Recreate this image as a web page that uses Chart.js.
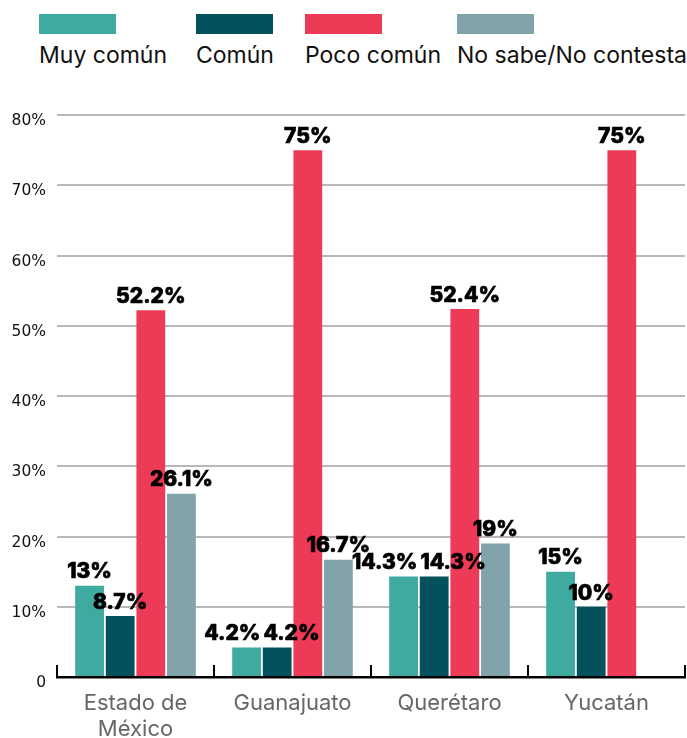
<!DOCTYPE html>
<html>
<head>
<meta charset="utf-8">
<script src="https://cdn.jsdelivr.net/npm/chart.js@4"></script>
<style>
  body { margin: 0; background: #fff; font-family: Inter, 'Open Sans', sans-serif; }
  #wrap { position: relative; width: 687px; height: 738px; }
  .lg { position: absolute; top: 14px; }
  .lg .box { width: 77px; height: 20px; }
  .lg .txt { margin-top: 7px; font-size: 23px; line-height: 28px; color: #111; white-space: nowrap; }
  #chartBox { position: absolute; left: 0; top: 80px; width: 687px; height: 658px; }
</style>
</head>
<body>
<div id="wrap">
  <div id="legend"></div>
  <div id="chartBox"><canvas id="c"></canvas></div>
</div>
<script>
// ── Data ─────────────────────────────────────────────────────────────────
const categories  = [['Estado de', 'México'], 'Guanajuato', 'Querétaro', 'Yucatán'];
const seriesNames = ['Muy común', 'Común', 'Poco común', 'No sabe/No contesta'];
const muyComun    = [13, 4.2, 14.3, 15];
const comun       = [8.7, 4.2, 14.3, 10];
const pocoComun   = [52.2, 75, 52.4, 75];
const noSabe      = [26.1, 16.7, 19, 0];
const colors      = ['#3eaaa0', '#03515c', '#ec3a57', '#80a4a9'];
const yTicks      = [0, 10, 20, 30, 40, 50, 60, 70, 80];

// ── Legend (box above text) ──────────────────────────────────────────────
const legendX = [39, 196, 305, 457];
document.getElementById('legend').innerHTML = seriesNames.map((n, i) => `
  <div class="lg" style="left:${legendX[i]}px">
    <div class="box" style="background:${colors[i]}"></div>
    <div class="txt">${n}</div>
  </div>`).join('');

// ── Plugins ──────────────────────────────────────────────────────────────
// value labels above bars, pushed apart when two neighbours collide
const valueLabels = {
    id: 'valueLabels',
    afterDatasetsDraw(chart) {
        const ctx = chart.ctx;
        ctx.save();
        ctx.font = '800 21px Inter, sans-serif';
        ctx.fillStyle = '#000';
        ctx.strokeStyle = '#000';
        ctx.lineWidth = 0.7;
        ctx.textAlign = 'center';
        ctx.textBaseline = 'bottom';
        categories.forEach((_, i) => {
            const items = [];
            chart.data.datasets.forEach((ds, di) => {
                const v = ds.data[i];
                if (!v) return;
                const bar = chart.getDatasetMeta(di).data[i];
                const txt = v + '%';
                items.push({ txt, x: bar.x, y: bar.y - 3, w: ctx.measureText(txt).width });
            });
            for (let k = 1; k < items.length; k++) {
                const a = items[k - 1], b = items[k];
                const vOverlap = Math.abs(a.y - b.y) < 20;
                const need = (a.w + b.w) / 2 + 3 - (b.x - a.x);
                if (vOverlap && need > 0) { a.x -= need / 2; b.x += need / 2; }
            }
            items.forEach(it => {
                ctx.fillText(it.txt, it.x, it.y);
                ctx.strokeText(it.txt, it.x, it.y);
            });
        });
        ctx.restore();
    }
};

const catTicks = {
    id: 'catTicks',
    afterDraw(chart) {
        const x = chart.scales.x, y = chart.scales.y;
        const ctx = chart.ctx;
        const half = (x.getPixelForValue(1) - x.getPixelForValue(0)) / 2;
        const base = y.getPixelForValue(0);
        ctx.save();
        ctx.strokeStyle = '#000';
        ctx.lineWidth = 2;
        for (let i = 0; i <= categories.length; i++) {
            const px = Math.round(x.getPixelForValue(i) - half);
            ctx.beginPath();
            ctx.moveTo(px, base + 1);
            ctx.lineTo(px, base - 12);
            ctx.stroke();
        }
        ctx.restore();
    }
};

// ── Chart ────────────────────────────────────────────────────────────────
const series = [muyComun, comun, pocoComun, noSabe];
new Chart(document.getElementById('c'), {
    type: 'bar',
    data: {
        labels: categories,
        datasets: series.map((d, i) => ({
            label: seriesNames[i],
            data: d,
            backgroundColor: colors[i],
            categoryPercentage: 0.78,
            barPercentage: 0.94,
        }))
    },
    options: {
        responsive: true,
        maintainAspectRatio: false,
        animation: false,
        layout: { padding: { top: 35, left: 0, right: 2, bottom: 0 } },
        plugins: { legend: { display: false }, tooltip: { enabled: false } },
        scales: {
            x: {
                grid: { display: false },
                border: { display: true, color: '#000', width: 2.5 },
                afterFit: s => { s.height = 61; },
                ticks: { color: '#666', font: { size: 22, family: 'Inter', lineHeight: 1.15 }, padding: 6, maxRotation: 0 }
            },
            y: {
                min: 0, max: 80,
                afterBuildTicks: s => { s.ticks = yTicks.map(v => ({ value: v })); },
                afterFit: s => { s.width = 57; },
                grid: {
                    color: c => c.tick && c.tick.value === 0 ? 'rgba(0,0,0,0)' : '#b8b8b8',
                    lineWidth: 2,
                    drawTicks: false
                },
                border: { display: false },
                ticks: {
                    color: '#111',
                    font: { size: 15.5, family: 'DejaVu Sans' },
                    padding: 11,
                    labelOffset: 6,
                    callback: v => v === 0 ? '0' : v + '%'
                }
            }
        }
    },
    plugins: [valueLabels, catTicks]
});
</script>
</body>
</html>
